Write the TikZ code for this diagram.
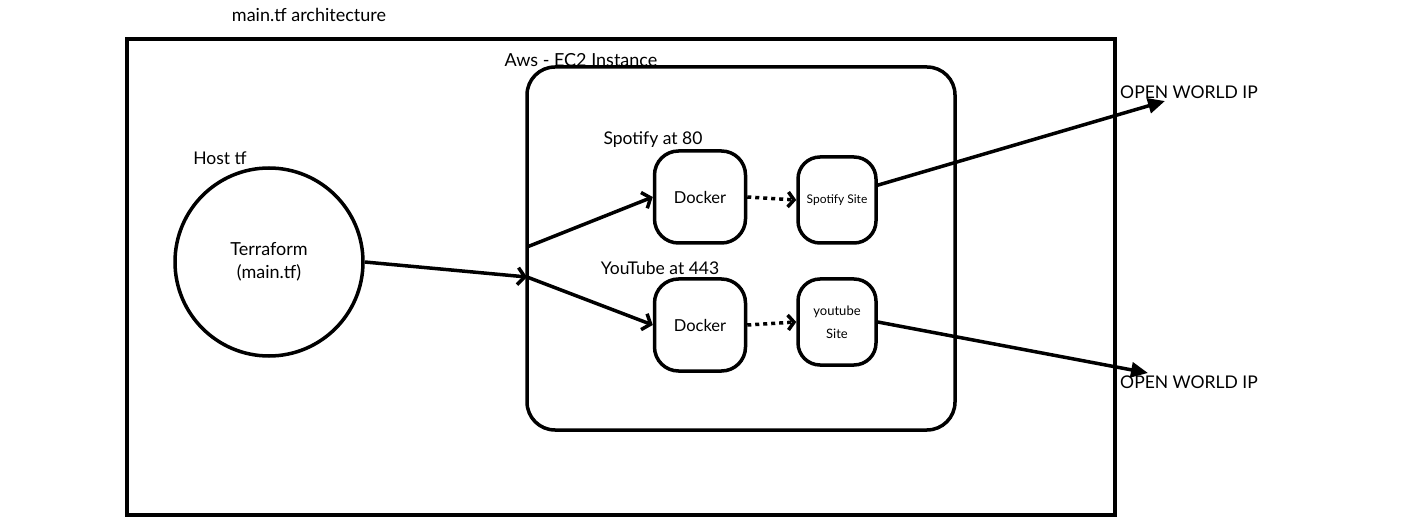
\documentclass[tikz,border=0pt]{standalone}
\usepackage{fontspec}
\setmainfont{Lato}
\usetikzlibrary{positioning}
\usetikzlibrary{arrows.meta}

\tikzset{
    label text/.style={font=\fontsize{17.5}{20}\selectfont, inner sep=0pt},
    small text/.style={font=\fontsize{18}{21}\selectfont, inner sep=0pt},
    frame box/.style={draw, line width=4pt, minimum width=988pt, minimum height=476pt},
    ec2 box/.style={draw, line width=3.5pt, rounded corners=28pt, minimum width=428pt, minimum height=363pt},
    host circle/.style={draw, circle, line width=3.5pt, minimum size=188pt, align=center,
        font=\fontsize{18}{23}\selectfont},
    docker box/.style={draw, line width=3.5pt, rounded corners=24pt, minimum width=91pt,
        minimum height=92pt, font=\fontsize{16.5}{19}\selectfont},
    site box/.style={draw, line width=3.5pt, rounded corners=22pt, minimum width=78pt,
        minimum height=86pt, align=center},
    link/.style={line width=3.5pt, -{Straight Barb[length=7pt,width=17pt]}},
    port link/.style={line width=3.5pt, dash pattern=on 4pt off 4pt,
        -{Straight Barb[length=6pt,width=15pt]}},
    world link/.style={line width=3.5pt, -{Triangle[length=17pt,width=15pt]}},
}

\begin{document}
\begin{tikzpicture}[x=1pt, y=-1pt]
    \useasboundingbox (0, 0) rectangle (1410, 518);

    \node[small text] (title) at (309, 15) {main.tf architecture};
    \node[frame box] (frame) at (621, 277) {};

    % host side
    \node[label text] (hostlabel) at (220, 158) {Host tf};
    \node[host circle] (terraform) at (269, 262) {Terraform\\(main.tf)};

    % aws side
    \node[ec2 box] (ec2) at (741, 248.5) {};
    \node[small text] (ec2label) at (581, 60) {Aws - EC2 Instance};
    \coordinate (ec2in) at (527, 277);
    \coordinate (ec2up) at (527, 247);

    \node[label text] (spotifylabel) at (653, 140) {Spotify at 80};
    \node[label text] (youtubelabel) at (660, 268) {YouTube at 443};
    \node[docker box] (docker80) at (700, 197) {Docker};
    \node[docker box] (docker443) at (700, 325) {Docker};
    \node[site box, font=\fontsize{12}{14}\selectfont] (spotifysite) at (837, 200) {Spotify Site};
    \node[site box, font=\fontsize{13}{23}\selectfont] (youtubesite) at (837, 322) {youtube\\Site};

    % outside world
    \coordinate (world80) at (1165, 101);
    \coordinate (world443) at (1148, 373);
    \node[label text] (worldlabel80) at (1189, 92) {OPEN WORLD IP};
    \node[label text] (worldlabel443) at (1189, 382) {OPEN WORLD IP};

    \draw[link] (terraform.east) -- (ec2in);
    \draw[link] (ec2up) -- (docker80.west);
    \draw[link] (ec2in) -- (docker443.west);
    \draw[port link] (docker80.east) -- (spotifysite.west);
    \draw[port link] (docker443.east) -- (youtubesite.west);
    \draw[world link] (spotifysite.20) -- (world80);
    \draw[world link] (youtubesite.east) -- (world443);
\end{tikzpicture}
\end{document}
